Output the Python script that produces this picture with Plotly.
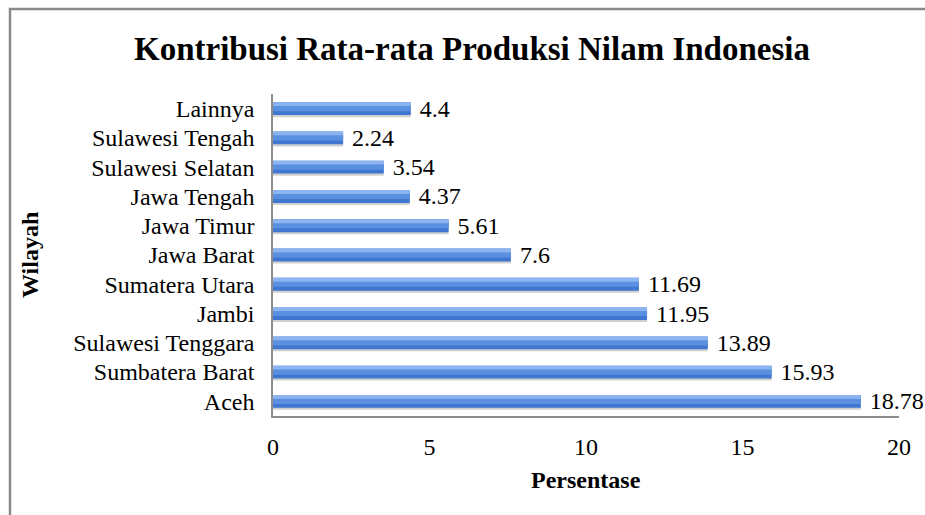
import plotly.graph_objects as go

categories = ["Aceh", "Sumbatera Barat", "Sulawesi Tenggara", "Jambi", "Sumatera Utara",
              "Jawa Barat", "Jawa Timur", "Jawa Tengah", "Sulawesi Selatan",
              "Sulawesi Tengah", "Lainnya"]
values = [18.78, 15.93, 13.89, 11.95, 11.69, 7.6, 5.61, 4.37, 3.54, 2.24, 4.4]
x_ticks = [0, 5, 10, 15, 20]

SERIF = "Liberation Serif, Times New Roman, serif"
W = 0.44
FS = 24

fig = go.Figure()
# soft shadow under each bar
fig.add_trace(go.Bar(x=values, y=categories, orientation="h", width=W * 0.9,
                     offset=-W / 2 - 0.07, marker=dict(color="rgba(120,120,120,0.35)", line_width=0),
                     hoverinfo="skip", showlegend=False))
# main bar body (darker blue)
fig.add_trace(go.Bar(x=values, y=categories, orientation="h", width=W,
                     offset=-W / 2, marker=dict(color="#3f76cf", line_width=0),
                     text=values, texttemplate="\u00a0%{x}", textposition="outside",
                     cliponaxis=False, constraintext="none",
                     textfont=dict(family=SERIF, size=FS, color="#000000"),
                     outsidetextfont=dict(family=SERIF, size=FS, color="#000000"),
                     showlegend=False))
# mid band
fig.add_trace(go.Bar(x=values, y=categories, orientation="h", width=W * 0.55,
                     offset=-W / 2 + W * 0.3, marker=dict(color="#5b8fe0", line_width=0),
                     hoverinfo="skip", showlegend=False))
# top highlight
fig.add_trace(go.Bar(x=values, y=categories, orientation="h", width=W * 0.3,
                     offset=W / 2 - W * 0.3, marker=dict(color="#8cb4f0", line_width=0),
                     hoverinfo="skip", showlegend=False))

L, R, T, B = 273, 26, 94, 99
PW, PH = 925 - L - R, 515 - T - B

fig.update_layout(
    width=925, height=515,
    margin=dict(l=L, r=R, t=T, b=B),
    barmode="overlay",
    plot_bgcolor="white", paper_bgcolor="white",
    title=dict(text="<b>Kontribusi Rata-rata Produksi Nilam Indonesia</b>",
               x=472 / 925, xanchor="center", y=1 - 48 / 515, yanchor="middle",
               font=dict(family=SERIF, size=33, color="#000000")),
    xaxis=dict(range=[0, 20], tickvals=x_ticks, showgrid=False, zeroline=False,
               showline=True, linecolor="#8c8c8c", linewidth=1.5,
               ticks="outside", ticklen=8, tickcolor="rgba(0,0,0,0)",
               tickfont=dict(family=SERIF, size=FS, color="#000000")),
    yaxis=dict(categoryorder="array", categoryarray=categories, range=[-0.5, 10.5],
               showgrid=False, zeroline=False,
               showline=True, linecolor="#8c8c8c", linewidth=1.5,
               ticks="outside", ticklen=12, tickcolor="rgba(0,0,0,0)",
               tickfont=dict(family=SERIF, size=FS, color="#000000")),
    annotations=[
        dict(text="<b>Persentase</b>", xref="paper", yref="paper",
             x=0.5, y=-(480 - 416) / PH, xanchor="center", yanchor="middle",
             showarrow=False, font=dict(family=SERIF, size=FS, color="#000000")),
        dict(text="<b>Wilayah</b>", xref="paper", yref="paper",
             x=(30 - L) / PW, y=0.5, xanchor="center", yanchor="middle", textangle=-90,
             showarrow=False, font=dict(family=SERIF, size=FS, color="#000000")),
    ],
    shapes=[
        dict(type="rect", xref="paper", yref="paper",
             x0=(10 - L) / PW, x1=(980 - L) / PW,
             y0=-(580 - (515 - B)) / PH, y1=1 + (T - 9) / PH,
             line=dict(color="#8a8a8a", width=2.5), layer="below"),
    ],
)

fig.write_html("out.html", config={"displayModeBar": False},
               post_script="document.body.style.margin='0';document.body.style.overflow='hidden';")
